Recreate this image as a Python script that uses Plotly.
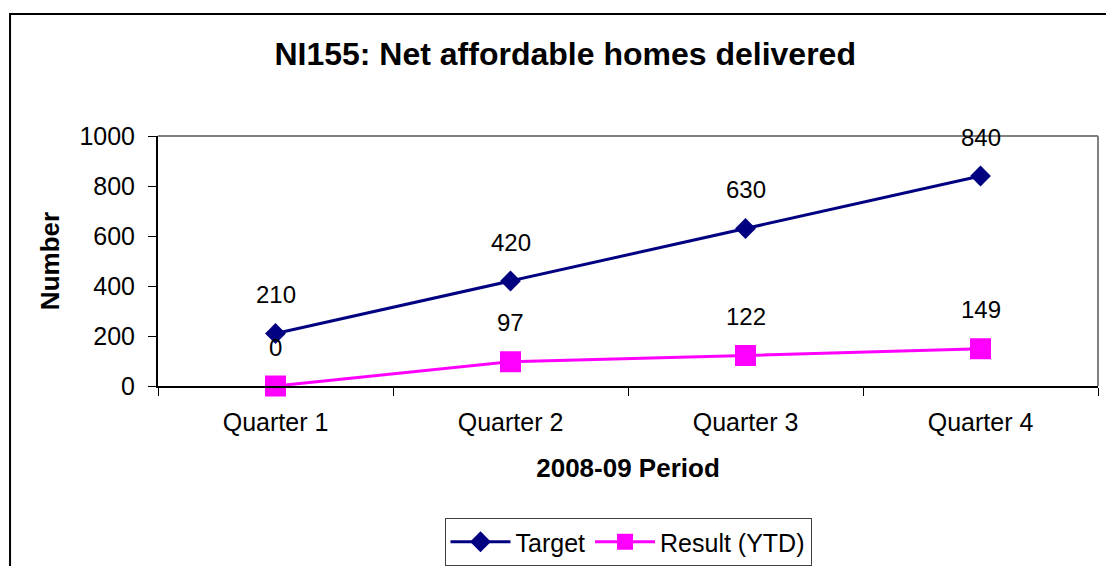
import plotly.graph_objects as go

categories = ["Quarter 1", "Quarter 2", "Quarter 3", "Quarter 4"]
target = [210, 420, 630, 840]
result_ytd = [0, 97, 122, 149]
y_ticks = [0, 200, 400, 600, 800, 1000]

FONT = "Liberation Sans, Arial, sans-serif"

fig = go.Figure()
fig.add_trace(go.Scatter(
    x=categories, y=target, name="Target", mode="lines+markers",
    line=dict(color="#000080", width=3),
    marker=dict(symbol="diamond", size=16, color="#000080"),
    cliponaxis=False,
))
fig.add_trace(go.Scatter(
    x=categories, y=result_ytd, name="Result (YTD)", mode="lines+markers",
    line=dict(color="#FF00FF", width=3),
    marker=dict(symbol="square", size=21, color="#FF00FF"),
    cliponaxis=False,
))

annotations = []
for series in (target, result_ytd):
    for c, v in zip(categories, series):
        annotations.append(dict(
            x=c, y=v, xref="x", yref="y", text=str(v), showarrow=False,
            yanchor="middle", yshift=39, font=dict(size=24, color="black", family=FONT),
        ))

shapes = [
    # outer chart border
    dict(type="rect", xref="paper", yref="paper", x0=-0.1574, x1=1.2, y0=-1.0, y1=1.488,
         line=dict(color="black", width=2), layer="below"),
    # plot area border: top and right edges
    dict(type="line", xref="paper", yref="paper", x0=0, x1=1, y0=1, y1=1,
         line=dict(color="#808080", width=2), layer="above"),
    dict(type="line", xref="paper", yref="paper", x0=1, x1=1, y0=0, y1=1,
         line=dict(color="#808080", width=2), layer="above"),
]

fig.update_layout(
    width=1106, height=566,
    margin=dict(l=158, r=8, t=136, b=180, autoexpand=False),
    paper_bgcolor="white", plot_bgcolor="rgba(0,0,0,0)",
    font=dict(family=FONT, size=25, color="black"),
    title=dict(text="<b>NI155: Net affordable homes delivered</b>", xref="container",
               x=0.511, xanchor="center", yref="container", y=0.905, yanchor="middle",
               font=dict(size=32, family=FONT, color="black")),
    showlegend=True,
    legend=dict(orientation="h", x=0.5, xanchor="center", y=-0.528, yanchor="top",
                bordercolor="#404040", borderwidth=1, font=dict(size=25, family=FONT),
                bgcolor="white", itemwidth=60),
    annotations=annotations,
    shapes=shapes,
)
fig.update_xaxes(
    type="category", range=[-0.5, 3.5], autorange=False, automargin=False,
    showgrid=False, showline=True, linecolor="black", linewidth=2,
    ticks="outside", tickson="boundaries", ticklen=8, tickcolor="black", tickwidth=1,
    tickfont=dict(size=25, family=FONT), ticklabelstandoff=13,
    title=dict(text="<b>2008-09 Period</b>", font=dict(size=26, family=FONT), standoff=24),
    zeroline=False,
)
fig.update_yaxes(
    range=[0, 1000], tickvals=y_ticks, showgrid=False, showline=True, linecolor="black",
    linewidth=2, ticks="outside", ticklen=8, tickcolor="black", tickwidth=1,
    tickfont=dict(size=25, family=FONT), ticklabelstandoff=8, automargin=False,
    title=dict(text="<b>Number</b>", font=dict(size=26, family=FONT), standoff=12),
    zeroline=False,
)

fig.write_html("out.html", config={"displayModeBar": False},
               post_script="document.body.style.margin='0';")
